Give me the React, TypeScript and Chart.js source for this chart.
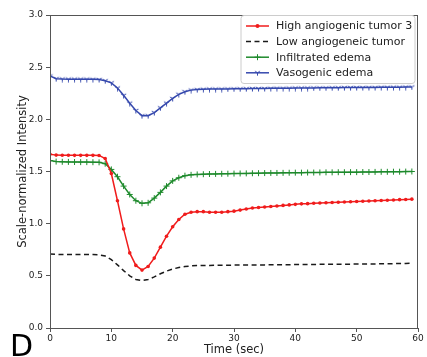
import React, { useEffect, useRef } from "react";
import { Chart, registerables } from "chart.js";

Chart.register(...registerables);

const time = [
  0, 1, 2, 3, 4, 5, 6, 7, 8, 9, 10, 11, 12, 13, 14, 15, 16, 17, 18, 19,
  20, 21, 22, 23, 24, 25, 26, 27, 28, 29, 30, 31, 32, 33, 34, 35, 36, 37, 38, 39,
  40, 41, 42, 43, 44, 45, 46, 47, 48, 49, 50, 51, 52, 53, 54, 55, 56, 57, 58, 59,
];

const highAngio = [
  1.665, 1.657, 1.656, 1.656, 1.655, 1.655, 1.655, 1.655, 1.654, 1.625,
  1.48, 1.22, 0.95, 0.72, 0.6, 0.555, 0.59, 0.67, 0.775, 0.88,
  0.97, 1.04, 1.09, 1.11, 1.115, 1.115, 1.11, 1.11, 1.11, 1.115,
  1.12, 1.13, 1.14, 1.15, 1.155, 1.16, 1.165, 1.17, 1.175, 1.18,
  1.185, 1.19, 1.192, 1.195, 1.198, 1.2, 1.203, 1.205, 1.207, 1.21,
  1.212, 1.215, 1.217, 1.22, 1.222, 1.225, 1.227, 1.23, 1.232, 1.235,
];

const lowAngio = [
  0.71, 0.706, 0.705, 0.705, 0.705, 0.705, 0.705, 0.704, 0.702, 0.69,
  0.655, 0.605, 0.55, 0.5, 0.465, 0.455, 0.465, 0.49, 0.52, 0.545,
  0.565, 0.58, 0.59, 0.595, 0.598, 0.6, 0.6, 0.601, 0.602, 0.602,
  0.603, 0.603, 0.604, 0.604, 0.605, 0.605, 0.606, 0.606, 0.607, 0.607,
  0.608, 0.608, 0.609, 0.609, 0.61, 0.61, 0.611, 0.611, 0.612, 0.612,
  0.613, 0.613, 0.614, 0.614, 0.615, 0.616, 0.617, 0.618, 0.619, 0.62,
];

const infiltrated = [
  1.605, 1.595, 1.593, 1.592, 1.591, 1.59, 1.59, 1.589, 1.588, 1.575,
  1.52, 1.45, 1.36, 1.28, 1.22, 1.195, 1.2, 1.245, 1.3, 1.36,
  1.41, 1.44, 1.46, 1.468, 1.472, 1.474, 1.476, 1.477, 1.478, 1.479,
  1.48, 1.481, 1.482, 1.483, 1.484, 1.485, 1.486, 1.486, 1.487, 1.488,
  1.489, 1.489, 1.49, 1.49, 1.491, 1.492, 1.492, 1.493, 1.493, 1.494,
  1.494, 1.495, 1.495, 1.496, 1.497, 1.497, 1.498, 1.498, 1.499, 1.5,
];

const vasogenic = [
  2.415, 2.39, 2.386, 2.385, 2.385, 2.385, 2.385, 2.384, 2.382, 2.37,
  2.35, 2.3, 2.23, 2.155, 2.085, 2.035, 2.035, 2.065, 2.11, 2.155,
  2.2, 2.24, 2.265, 2.28, 2.285, 2.288, 2.29, 2.29, 2.29, 2.291,
  2.292, 2.293, 2.294, 2.295, 2.295, 2.296, 2.297, 2.298, 2.298, 2.299,
  2.3, 2.3, 2.3, 2.301, 2.302, 2.302, 2.303, 2.303, 2.304, 2.304,
  2.305, 2.305, 2.306, 2.306, 2.307, 2.307, 2.308, 2.308, 2.309, 2.31,
];

const seriesNames = [
  "High angiogenic tumor 3",
  "Low angiogeneic tumor",
  "Infiltrated edema",
  "Vasogenic edema",
];

const yTicks = [0, 0.5, 1, 1.5, 2, 2.5, 3];
const xTicks = [0, 10, 20, 30, 40, 50, 60];

const RED = "#f01c1c";
const BLACK = "#1a1a1a";
const GREEN = "#1e8a2c";
const BLUE = "#3548ad";
const FONT = "'DejaVu Sans', sans-serif";

function makeTriDown(color: string): HTMLCanvasElement {
  const c = document.createElement("canvas");
  c.width = 7;
  c.height = 7;
  const g = c.getContext("2d")!;
  g.strokeStyle = color;
  g.lineWidth = 1;
  const cx = 3.5, cy = 3.5, r = 3;
  g.beginPath();
  g.moveTo(cx, cy);
  g.lineTo(cx, cy + r);
  g.moveTo(cx, cy);
  g.lineTo(cx - r * 0.866, cy - r * 0.5);
  g.moveTo(cx, cy);
  g.lineTo(cx + r * 0.866, cy - r * 0.5);
  g.stroke();
  return c;
}

function toPoints(vals: number[]) {
  return vals.map((v, i) => ({ x: time[i], y: v }));
}

export default function App() {
  const ref = useRef<HTMLCanvasElement | null>(null);

  useEffect(() => {
    if (!ref.current) return;
    const tri = makeTriDown(BLUE);

    const framePlugin = {
      id: "frameLegend",
      afterDraw(chart: any) {
        const ctx = chart.ctx as CanvasRenderingContext2D;
        const { left, top, right, bottom } = chart.chartArea;
        ctx.save();
        // frame
        ctx.strokeStyle = "#555";
        ctx.lineWidth = 1;
        ctx.strokeRect(Math.round(left) + 0.5, Math.round(top) + 0.5, Math.round(right - left) - 1, Math.round(bottom - top));

        // legend
        const lw = 174, lh = 68;
        const lx = right - 3 - lw;
        const ly = top + 0.5;
        ctx.fillStyle = "rgba(255,255,255,0.85)";
        ctx.strokeStyle = "#cccccc";
        ctx.lineWidth = 1;
        const rr = 3;
        ctx.beginPath();
        ctx.moveTo(lx + rr, ly);
        ctx.lineTo(lx + lw - rr, ly);
        ctx.quadraticCurveTo(lx + lw, ly, lx + lw, ly + rr);
        ctx.lineTo(lx + lw, ly + lh - rr);
        ctx.quadraticCurveTo(lx + lw, ly + lh, lx + lw - rr, ly + lh);
        ctx.lineTo(lx + rr, ly + lh);
        ctx.quadraticCurveTo(lx, ly + lh, lx, ly + lh - rr);
        ctx.lineTo(lx, ly + rr);
        ctx.quadraticCurveTo(lx, ly, lx + rr, ly);
        ctx.closePath();
        ctx.fill();
        ctx.stroke();

        chart.data.datasets.forEach((ds: any, i: number) => {
          const y = ly + 10.5 + i * 15.6;
          const x0 = lx + 5, x1 = lx + 28;
          ctx.strokeStyle = ds.borderColor;
          ctx.lineWidth = 1.5;
          ctx.setLineDash(ds.borderDash && ds.borderDash.length ? ds.borderDash : []);
          ctx.beginPath();
          ctx.moveTo(x0, y);
          ctx.lineTo(x1, y);
          ctx.stroke();
          ctx.setLineDash([]);
          const mx = (x0 + x1) / 2;
          if (ds.pointStyle === "circle" && ds.pointRadius > 0) {
            ctx.fillStyle = ds.borderColor;
            ctx.beginPath();
            ctx.arc(mx, y, 2, 0, Math.PI * 2);
            ctx.fill();
          } else if (ds.pointStyle === "cross") {
            ctx.lineWidth = 1;
            ctx.beginPath();
            ctx.moveTo(mx - 3, y);
            ctx.lineTo(mx + 3, y);
            ctx.moveTo(mx, y - 3);
            ctx.lineTo(mx, y + 3);
            ctx.stroke();
          } else if (ds.pointStyle instanceof HTMLCanvasElement) {
            ctx.drawImage(ds.pointStyle, mx - 3.5, y - 3.5);
          }
          ctx.fillStyle = "#222";
          ctx.font = `11px ${FONT}`;
          ctx.textBaseline = "middle";
          ctx.textAlign = "left";
          ctx.fillText(ds.label, lx + 35, y + 0.5);
        });

        // panel letter
        ctx.fillStyle = "#000";
        ctx.font = `30px ${FONT}`;
        ctx.textBaseline = "alphabetic";
        ctx.textAlign = "left";
        ctx.fillText("D", 10, 356);
        ctx.restore();
      },
    };

    const chart = new Chart(ref.current, {
      type: "line",
      data: {
        datasets: [
          {
            label: seriesNames[0],
            data: toPoints(highAngio),
            borderColor: RED,
            backgroundColor: RED,
            borderWidth: 1.5,
            pointStyle: "circle",
            pointRadius: 1.8,
            pointBorderWidth: 0,
            tension: 0,
          },
          {
            label: seriesNames[1],
            data: toPoints(lowAngio),
            borderColor: BLACK,
            backgroundColor: BLACK,
            borderWidth: 1.5,
            borderDash: [5, 3.5],
            pointRadius: 0,
            pointStyle: false as any,
            tension: 0,
          },
          {
            label: seriesNames[2],
            data: toPoints(infiltrated),
            borderColor: GREEN,
            backgroundColor: GREEN,
            borderWidth: 1.5,
            pointStyle: "cross",
            pointRadius: 3,
            pointBorderWidth: 1,
            tension: 0,
          },
          {
            label: seriesNames[3],
            data: toPoints(vasogenic),
            borderColor: BLUE,
            backgroundColor: BLUE,
            borderWidth: 1.5,
            pointStyle: tri as any,
            pointRadius: 3,
            tension: 0,
          },
        ],
      },
      options: {
        animation: false,
        responsive: false,
        layout: { padding: { left: 0, top: 15, right: 9, bottom: 0 } },
        plugins: { legend: { display: false }, tooltip: { enabled: false } },
        scales: {
          x: {
            type: "linear",
            min: 0,
            max: 60,
            afterBuildTicks: (scale: any) => {
              scale.ticks = xTicks.map((v) => ({ value: v }));
            },
            afterFit: (scale: any) => {
              scale.height = 29;
            },
            border: { display: false },
            grid: { drawOnChartArea: false, drawTicks: true, tickLength: 4, tickColor: "#555" },
            ticks: { color: "#222", font: { family: FONT, size: 9 }, padding: 1, maxRotation: 0, callback: (v: any) => String(v) },
            title: { display: true, text: "Time (sec)", color: "#222", font: { family: FONT, size: 11.5 }, padding: { top: 0, bottom: 0 } },
          },
          y: {
            type: "linear",
            min: 0,
            max: 3,
            afterBuildTicks: (scale: any) => {
              scale.ticks = yTicks.map((v) => ({ value: v }));
            },
            afterFit: (scale: any) => {
              scale.width = 50;
            },
            border: { display: false },
            grid: { drawOnChartArea: false, drawTicks: true, tickLength: 4, tickColor: "#555" },
            ticks: { color: "#222", font: { family: FONT, size: 9 }, padding: 3, callback: (v: any) => Number(v).toFixed(1) },
            title: { display: true, text: "Scale-normalized Intensity", color: "#222", font: { family: FONT, size: 11.5 }, padding: { top: 16, bottom: 0 } },
          },
        },
      },
      plugins: [framePlugin],
    });
    return () => chart.destroy();
  }, []);

  return (
    <div style={{ position: "fixed", left: 0, top: 0, width: 427, height: 357, background: "#fff" }}>
      <canvas ref={ref} width={427} height={357} />
    </div>
  );
}
